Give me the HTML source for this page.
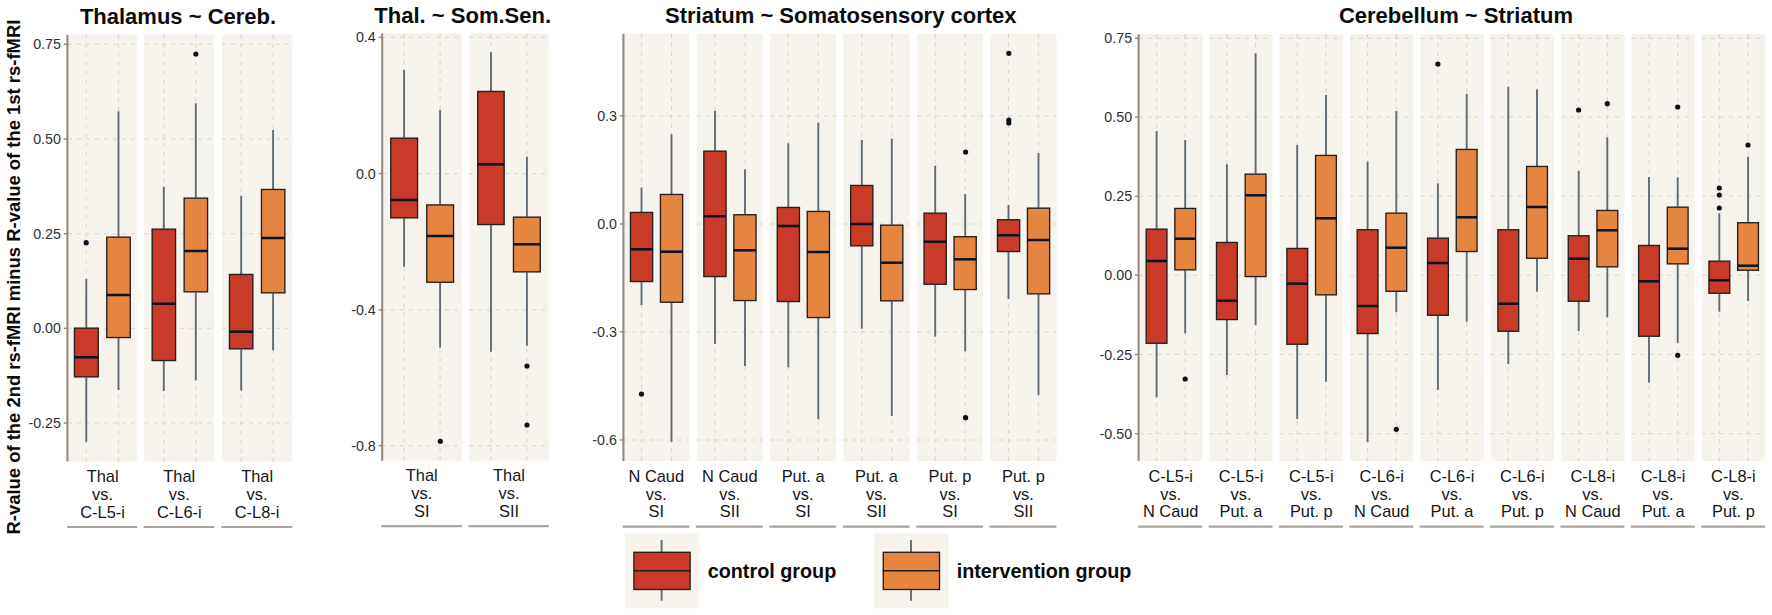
<!DOCTYPE html>
<html lang="en"><head><meta charset="utf-8"><title>rs-fMRI R-value differences</title>
<style>
html,body{margin:0;padding:0;background:#fff;}
body{width:1772px;height:615px;overflow:hidden;font-family:"Liberation Sans",Arial,sans-serif;}
svg{display:block;}
text{font-family:"Liberation Sans",Arial,sans-serif;}
.g{stroke:#D8D4C3;stroke-width:1.1;stroke-dasharray:4 5;}
.w{stroke:#5E6C77;stroke-width:1.9;}
.b{stroke:#231F1D;stroke-width:1.35;}
.m{stroke:#0A1426;stroke-width:2.5;}
.t{font-size:14.3px;fill:#303030;}
.s{font-size:16.4px;fill:#161616;}
.h{font-size:22px;font-weight:bold;fill:#0b0b0b;}
.y{font-size:18.43px;font-weight:bold;fill:#0b0b0b;}
.l{font-size:19.8px;font-weight:bold;fill:#0b0b0b;}
</style></head><body>
<svg width="1772" height="615" viewBox="0 0 1772 615">
<rect width="1772" height="615" fill="#ffffff"/>
<rect x="68.0" y="34.7" width="69.2" height="426.8" fill="#F6F3ED"/>
<rect x="144.3" y="34.7" width="70.0" height="426.8" fill="#F6F3ED"/>
<rect x="222.0" y="34.7" width="70.3" height="426.8" fill="#F6F3ED"/>
<line x1="68.0" x2="137.2" y1="44.3" y2="44.3" class="g"/>
<line x1="68.0" x2="137.2" y1="139.0" y2="139.0" class="g"/>
<line x1="68.0" x2="137.2" y1="233.7" y2="233.7" class="g"/>
<line x1="68.0" x2="137.2" y1="328.3" y2="328.3" class="g"/>
<line x1="68.0" x2="137.2" y1="423.0" y2="423.0" class="g"/>
<line x1="86.3" x2="86.3" y1="34.7" y2="461.5" class="g"/>
<line x1="118.5" x2="118.5" y1="34.7" y2="461.5" class="g"/>
<line x1="144.3" x2="214.3" y1="44.3" y2="44.3" class="g"/>
<line x1="144.3" x2="214.3" y1="139.0" y2="139.0" class="g"/>
<line x1="144.3" x2="214.3" y1="233.7" y2="233.7" class="g"/>
<line x1="144.3" x2="214.3" y1="328.3" y2="328.3" class="g"/>
<line x1="144.3" x2="214.3" y1="423.0" y2="423.0" class="g"/>
<line x1="163.8" x2="163.8" y1="34.7" y2="461.5" class="g"/>
<line x1="195.8" x2="195.8" y1="34.7" y2="461.5" class="g"/>
<line x1="222.0" x2="292.3" y1="44.3" y2="44.3" class="g"/>
<line x1="222.0" x2="292.3" y1="139.0" y2="139.0" class="g"/>
<line x1="222.0" x2="292.3" y1="233.7" y2="233.7" class="g"/>
<line x1="222.0" x2="292.3" y1="328.3" y2="328.3" class="g"/>
<line x1="222.0" x2="292.3" y1="423.0" y2="423.0" class="g"/>
<line x1="241.2" x2="241.2" y1="34.7" y2="461.5" class="g"/>
<line x1="273.1" x2="273.1" y1="34.7" y2="461.5" class="g"/>
<line x1="67.4" x2="67.4" y1="34.7" y2="461.5" stroke="#948B7D" stroke-width="2.1"/>
<line x1="63.8" x2="67.4" y1="44.3" y2="44.3" stroke="#948B7D" stroke-width="1.4"/>
<text x="61.0" y="49.4" class="t" text-anchor="end">0.75</text>
<line x1="63.8" x2="67.4" y1="139.0" y2="139.0" stroke="#948B7D" stroke-width="1.4"/>
<text x="61.0" y="144.1" class="t" text-anchor="end">0.50</text>
<line x1="63.8" x2="67.4" y1="233.7" y2="233.7" stroke="#948B7D" stroke-width="1.4"/>
<text x="61.0" y="238.8" class="t" text-anchor="end">0.25</text>
<line x1="63.8" x2="67.4" y1="328.3" y2="328.3" stroke="#948B7D" stroke-width="1.4"/>
<text x="61.0" y="333.4" class="t" text-anchor="end">0.00</text>
<line x1="63.8" x2="67.4" y1="423.0" y2="423.0" stroke="#948B7D" stroke-width="1.4"/>
<text x="61.0" y="428.1" class="t" text-anchor="end">-0.25</text>
<line x1="86.3" x2="86.3" y1="279.0" y2="327.7" class="w"/>
<line x1="86.3" x2="86.3" y1="377.3" y2="441.7" class="w"/>
<rect x="74.45" y="328.15" width="23.80" height="48.70" fill="#C93A29" class="b"/>
<line x1="74.3" x2="98.4" y1="357.3" y2="357.3" class="m"/>
<line x1="118.5" x2="118.5" y1="111.3" y2="236.7" class="w"/>
<line x1="118.5" x2="118.5" y1="338.0" y2="390.0" class="w"/>
<rect x="106.75" y="237.15" width="23.50" height="100.40" fill="#E6853F" class="b"/>
<line x1="106.6" x2="130.4" y1="295.0" y2="295.0" class="m"/>
<line x1="163.8" x2="163.8" y1="186.7" y2="228.7" class="w"/>
<line x1="163.8" x2="163.8" y1="361.0" y2="391.0" class="w"/>
<rect x="152.15" y="229.15" width="23.40" height="131.40" fill="#C93A29" class="b"/>
<line x1="152.0" x2="175.7" y1="303.7" y2="303.7" class="m"/>
<line x1="195.8" x2="195.8" y1="103.3" y2="197.7" class="w"/>
<line x1="195.8" x2="195.8" y1="292.3" y2="380.3" class="w"/>
<rect x="184.15" y="198.15" width="23.40" height="93.70" fill="#E6853F" class="b"/>
<line x1="184.0" x2="207.7" y1="251.0" y2="251.0" class="m"/>
<line x1="241.2" x2="241.2" y1="195.7" y2="274.0" class="w"/>
<line x1="241.2" x2="241.2" y1="349.3" y2="390.7" class="w"/>
<rect x="229.45" y="274.45" width="23.40" height="74.40" fill="#C93A29" class="b"/>
<line x1="229.3" x2="253.0" y1="331.7" y2="331.7" class="m"/>
<line x1="273.1" x2="273.1" y1="130.0" y2="189.0" class="w"/>
<line x1="273.1" x2="273.1" y1="293.3" y2="350.3" class="w"/>
<rect x="261.45" y="189.45" width="23.40" height="103.40" fill="#E6853F" class="b"/>
<line x1="261.3" x2="285.0" y1="238.0" y2="238.0" class="m"/>
<circle cx="86.2" cy="242.7" r="2.6" fill="#08101C"/>
<circle cx="195.8" cy="54.0" r="2.6" fill="#08101C"/>
<text x="102.6" y="481.9" class="s" text-anchor="middle">Thal</text>
<text x="102.6" y="499.7" class="s" text-anchor="middle">vs.</text>
<text x="102.6" y="517.5" class="s" text-anchor="middle">C-L5-i</text>
<line x1="67.3" x2="137.2" y1="527.0" y2="527.0" stroke="#ABA59C" stroke-width="2.2"/>
<text x="179.3" y="481.9" class="s" text-anchor="middle">Thal</text>
<text x="179.3" y="499.7" class="s" text-anchor="middle">vs.</text>
<text x="179.3" y="517.5" class="s" text-anchor="middle">C-L6-i</text>
<line x1="143.6" x2="214.3" y1="527.0" y2="527.0" stroke="#ABA59C" stroke-width="2.2"/>
<text x="257.1" y="481.9" class="s" text-anchor="middle">Thal</text>
<text x="257.1" y="499.7" class="s" text-anchor="middle">vs.</text>
<text x="257.1" y="517.5" class="s" text-anchor="middle">C-L8-i</text>
<line x1="221.3" x2="292.3" y1="527.0" y2="527.0" stroke="#ABA59C" stroke-width="2.2"/>
<text x="178.0" y="24.4" class="h" text-anchor="middle">Thalamus ~ Cereb.</text>
<rect x="381.8" y="33.5" width="79.9" height="427.3" fill="#F6F3ED"/>
<rect x="469.2" y="33.5" width="79.5" height="427.3" fill="#F6F3ED"/>
<line x1="381.8" x2="461.7" y1="37.3" y2="37.3" class="g"/>
<line x1="381.8" x2="461.7" y1="173.5" y2="173.5" class="g"/>
<line x1="381.8" x2="461.7" y1="310.0" y2="310.0" class="g"/>
<line x1="381.8" x2="461.7" y1="445.7" y2="445.7" class="g"/>
<line x1="404.1" x2="404.1" y1="33.5" y2="460.8" class="g"/>
<line x1="440.1" x2="440.1" y1="33.5" y2="460.8" class="g"/>
<line x1="469.2" x2="548.7" y1="37.3" y2="37.3" class="g"/>
<line x1="469.2" x2="548.7" y1="173.5" y2="173.5" class="g"/>
<line x1="469.2" x2="548.7" y1="310.0" y2="310.0" class="g"/>
<line x1="469.2" x2="548.7" y1="445.7" y2="445.7" class="g"/>
<line x1="491.0" x2="491.0" y1="33.5" y2="460.8" class="g"/>
<line x1="526.9" x2="526.9" y1="33.5" y2="460.8" class="g"/>
<line x1="382.2" x2="382.2" y1="33.5" y2="460.8" stroke="#948B7D" stroke-width="2.1"/>
<line x1="378.6" x2="382.2" y1="37.3" y2="37.3" stroke="#948B7D" stroke-width="1.4"/>
<text x="375.8" y="42.4" class="t" text-anchor="end">0.4</text>
<line x1="378.6" x2="382.2" y1="173.5" y2="173.5" stroke="#948B7D" stroke-width="1.4"/>
<text x="375.8" y="178.6" class="t" text-anchor="end">0.0</text>
<line x1="378.6" x2="382.2" y1="310.0" y2="310.0" stroke="#948B7D" stroke-width="1.4"/>
<text x="375.8" y="315.1" class="t" text-anchor="end">-0.4</text>
<line x1="378.6" x2="382.2" y1="445.7" y2="445.7" stroke="#948B7D" stroke-width="1.4"/>
<text x="375.8" y="450.8" class="t" text-anchor="end">-0.8</text>
<line x1="404.1" x2="404.1" y1="70.0" y2="137.7" class="w"/>
<line x1="404.1" x2="404.1" y1="218.3" y2="266.7" class="w"/>
<rect x="390.75" y="138.15" width="26.80" height="79.70" fill="#C93A29" class="b"/>
<line x1="390.6" x2="417.7" y1="200.0" y2="200.0" class="m"/>
<line x1="440.1" x2="440.1" y1="110.0" y2="204.5" class="w"/>
<line x1="440.1" x2="440.1" y1="282.7" y2="347.7" class="w"/>
<rect x="426.75" y="204.95" width="26.80" height="77.30" fill="#E6853F" class="b"/>
<line x1="426.6" x2="453.7" y1="236.0" y2="236.0" class="m"/>
<line x1="491.0" x2="491.0" y1="52.3" y2="91.0" class="w"/>
<line x1="491.0" x2="491.0" y1="225.0" y2="351.7" class="w"/>
<rect x="477.75" y="91.45" width="26.40" height="133.10" fill="#C93A29" class="b"/>
<line x1="477.6" x2="504.3" y1="164.3" y2="164.3" class="m"/>
<line x1="526.9" x2="526.9" y1="156.7" y2="216.7" class="w"/>
<line x1="526.9" x2="526.9" y1="272.3" y2="345.7" class="w"/>
<rect x="513.45" y="217.15" width="26.80" height="54.70" fill="#E6853F" class="b"/>
<line x1="513.3" x2="540.4" y1="244.3" y2="244.3" class="m"/>
<circle cx="440.3" cy="441.3" r="2.6" fill="#08101C"/>
<circle cx="527.0" cy="366.0" r="2.6" fill="#08101C"/>
<circle cx="527.0" cy="425.0" r="2.6" fill="#08101C"/>
<text x="421.8" y="481.4" class="s" text-anchor="middle">Thal</text>
<text x="421.8" y="499.2" class="s" text-anchor="middle">vs.</text>
<text x="421.8" y="517.0" class="s" text-anchor="middle">SI</text>
<line x1="381.1" x2="461.7" y1="526.2" y2="526.2" stroke="#ABA59C" stroke-width="2.2"/>
<text x="509.0" y="481.4" class="s" text-anchor="middle">Thal</text>
<text x="509.0" y="499.2" class="s" text-anchor="middle">vs.</text>
<text x="509.0" y="517.0" class="s" text-anchor="middle">SII</text>
<line x1="468.5" x2="548.7" y1="526.2" y2="526.2" stroke="#ABA59C" stroke-width="2.2"/>
<text x="462.7" y="22.6" class="h" text-anchor="middle">Thal. ~ Som.Sen.</text>
<rect x="623.3" y="33.7" width="66.1" height="427.3" fill="#F6F3ED"/>
<rect x="696.7" y="33.7" width="66.1" height="427.3" fill="#F6F3ED"/>
<rect x="770.1" y="33.7" width="66.1" height="427.3" fill="#F6F3ED"/>
<rect x="843.5" y="33.7" width="66.1" height="427.3" fill="#F6F3ED"/>
<rect x="916.9" y="33.7" width="66.1" height="427.3" fill="#F6F3ED"/>
<rect x="990.3" y="33.7" width="66.1" height="427.3" fill="#F6F3ED"/>
<line x1="623.3" x2="689.4" y1="115.7" y2="115.7" class="g"/>
<line x1="623.3" x2="689.4" y1="224.0" y2="224.0" class="g"/>
<line x1="623.3" x2="689.4" y1="331.7" y2="331.7" class="g"/>
<line x1="623.3" x2="689.4" y1="440.0" y2="440.0" class="g"/>
<line x1="641.5" x2="641.5" y1="33.7" y2="461.0" class="g"/>
<line x1="671.5" x2="671.5" y1="33.7" y2="461.0" class="g"/>
<line x1="696.7" x2="762.8" y1="115.7" y2="115.7" class="g"/>
<line x1="696.7" x2="762.8" y1="224.0" y2="224.0" class="g"/>
<line x1="696.7" x2="762.8" y1="331.7" y2="331.7" class="g"/>
<line x1="696.7" x2="762.8" y1="440.0" y2="440.0" class="g"/>
<line x1="715.0" x2="715.0" y1="33.7" y2="461.0" class="g"/>
<line x1="745.0" x2="745.0" y1="33.7" y2="461.0" class="g"/>
<line x1="770.1" x2="836.2" y1="115.7" y2="115.7" class="g"/>
<line x1="770.1" x2="836.2" y1="224.0" y2="224.0" class="g"/>
<line x1="770.1" x2="836.2" y1="331.7" y2="331.7" class="g"/>
<line x1="770.1" x2="836.2" y1="440.0" y2="440.0" class="g"/>
<line x1="788.3" x2="788.3" y1="33.7" y2="461.0" class="g"/>
<line x1="818.3" x2="818.3" y1="33.7" y2="461.0" class="g"/>
<line x1="843.5" x2="909.6" y1="115.7" y2="115.7" class="g"/>
<line x1="843.5" x2="909.6" y1="224.0" y2="224.0" class="g"/>
<line x1="843.5" x2="909.6" y1="331.7" y2="331.7" class="g"/>
<line x1="843.5" x2="909.6" y1="440.0" y2="440.0" class="g"/>
<line x1="861.8" x2="861.8" y1="33.7" y2="461.0" class="g"/>
<line x1="891.8" x2="891.8" y1="33.7" y2="461.0" class="g"/>
<line x1="916.9" x2="983.0" y1="115.7" y2="115.7" class="g"/>
<line x1="916.9" x2="983.0" y1="224.0" y2="224.0" class="g"/>
<line x1="916.9" x2="983.0" y1="331.7" y2="331.7" class="g"/>
<line x1="916.9" x2="983.0" y1="440.0" y2="440.0" class="g"/>
<line x1="935.2" x2="935.2" y1="33.7" y2="461.0" class="g"/>
<line x1="965.2" x2="965.2" y1="33.7" y2="461.0" class="g"/>
<line x1="990.3" x2="1056.4" y1="115.7" y2="115.7" class="g"/>
<line x1="990.3" x2="1056.4" y1="224.0" y2="224.0" class="g"/>
<line x1="990.3" x2="1056.4" y1="331.7" y2="331.7" class="g"/>
<line x1="990.3" x2="1056.4" y1="440.0" y2="440.0" class="g"/>
<line x1="1008.5" x2="1008.5" y1="33.7" y2="461.0" class="g"/>
<line x1="1038.5" x2="1038.5" y1="33.7" y2="461.0" class="g"/>
<line x1="623.4" x2="623.4" y1="33.7" y2="461.0" stroke="#948B7D" stroke-width="2.1"/>
<line x1="619.8" x2="623.4" y1="115.7" y2="115.7" stroke="#948B7D" stroke-width="1.4"/>
<text x="617.0" y="120.8" class="t" text-anchor="end">0.3</text>
<line x1="619.8" x2="623.4" y1="224.0" y2="224.0" stroke="#948B7D" stroke-width="1.4"/>
<text x="617.0" y="229.1" class="t" text-anchor="end">0.0</text>
<line x1="619.8" x2="623.4" y1="331.7" y2="331.7" stroke="#948B7D" stroke-width="1.4"/>
<text x="617.0" y="336.8" class="t" text-anchor="end">-0.3</text>
<line x1="619.8" x2="623.4" y1="440.0" y2="440.0" stroke="#948B7D" stroke-width="1.4"/>
<text x="617.0" y="445.1" class="t" text-anchor="end">-0.6</text>
<line x1="641.5" x2="641.5" y1="187.7" y2="212.0" class="w"/>
<line x1="641.5" x2="641.5" y1="282.0" y2="305.0" class="w"/>
<rect x="630.45" y="212.45" width="22.20" height="69.10" fill="#C93A29" class="b"/>
<line x1="630.3" x2="652.8" y1="249.3" y2="249.3" class="m"/>
<line x1="671.5" x2="671.5" y1="134.3" y2="194.0" class="w"/>
<line x1="671.5" x2="671.5" y1="302.7" y2="441.7" class="w"/>
<rect x="660.45" y="194.45" width="22.20" height="107.80" fill="#E6853F" class="b"/>
<line x1="660.3" x2="682.8" y1="251.7" y2="251.7" class="m"/>
<line x1="715.0" x2="715.0" y1="110.7" y2="150.7" class="w"/>
<line x1="715.0" x2="715.0" y1="277.0" y2="344.0" class="w"/>
<rect x="703.85" y="151.15" width="22.20" height="125.40" fill="#C93A29" class="b"/>
<line x1="703.7" x2="726.2" y1="216.3" y2="216.3" class="m"/>
<line x1="745.0" x2="745.0" y1="169.3" y2="214.3" class="w"/>
<line x1="745.0" x2="745.0" y1="301.0" y2="366.0" class="w"/>
<rect x="733.85" y="214.75" width="22.20" height="85.80" fill="#E6853F" class="b"/>
<line x1="733.7" x2="756.2" y1="250.3" y2="250.3" class="m"/>
<line x1="788.3" x2="788.3" y1="143.3" y2="207.0" class="w"/>
<line x1="788.3" x2="788.3" y1="302.0" y2="367.3" class="w"/>
<rect x="777.25" y="207.45" width="22.20" height="94.10" fill="#C93A29" class="b"/>
<line x1="777.1" x2="799.6" y1="226.0" y2="226.0" class="m"/>
<line x1="818.3" x2="818.3" y1="122.7" y2="211.0" class="w"/>
<line x1="818.3" x2="818.3" y1="318.0" y2="419.3" class="w"/>
<rect x="807.25" y="211.45" width="22.20" height="106.10" fill="#E6853F" class="b"/>
<line x1="807.1" x2="829.6" y1="252.0" y2="252.0" class="m"/>
<line x1="861.8" x2="861.8" y1="140.0" y2="185.0" class="w"/>
<line x1="861.8" x2="861.8" y1="246.3" y2="328.7" class="w"/>
<rect x="850.65" y="185.45" width="22.20" height="60.40" fill="#C93A29" class="b"/>
<line x1="850.5" x2="873.0" y1="224.0" y2="224.0" class="m"/>
<line x1="891.8" x2="891.8" y1="138.7" y2="224.7" class="w"/>
<line x1="891.8" x2="891.8" y1="301.3" y2="416.0" class="w"/>
<rect x="880.65" y="225.15" width="22.20" height="75.70" fill="#E6853F" class="b"/>
<line x1="880.5" x2="903.0" y1="262.7" y2="262.7" class="m"/>
<line x1="935.2" x2="935.2" y1="165.7" y2="212.7" class="w"/>
<line x1="935.2" x2="935.2" y1="284.7" y2="336.7" class="w"/>
<rect x="924.05" y="213.15" width="22.20" height="71.10" fill="#C93A29" class="b"/>
<line x1="923.9" x2="946.4" y1="241.7" y2="241.7" class="m"/>
<line x1="965.2" x2="965.2" y1="194.0" y2="236.3" class="w"/>
<line x1="965.2" x2="965.2" y1="290.0" y2="351.3" class="w"/>
<rect x="954.05" y="236.75" width="22.20" height="52.80" fill="#E6853F" class="b"/>
<line x1="953.9" x2="976.4" y1="259.3" y2="259.3" class="m"/>
<line x1="1008.5" x2="1008.5" y1="205.0" y2="219.3" class="w"/>
<line x1="1008.5" x2="1008.5" y1="252.0" y2="299.0" class="w"/>
<rect x="997.45" y="219.75" width="22.20" height="31.80" fill="#C93A29" class="b"/>
<line x1="997.3" x2="1019.8" y1="235.3" y2="235.3" class="m"/>
<line x1="1038.5" x2="1038.5" y1="153.0" y2="207.7" class="w"/>
<line x1="1038.5" x2="1038.5" y1="294.3" y2="395.0" class="w"/>
<rect x="1027.45" y="208.15" width="22.20" height="85.70" fill="#E6853F" class="b"/>
<line x1="1027.3" x2="1049.8" y1="240.0" y2="240.0" class="m"/>
<circle cx="641.5" cy="394.0" r="2.6" fill="#08101C"/>
<circle cx="965.6" cy="152.0" r="2.6" fill="#08101C"/>
<circle cx="965.6" cy="417.7" r="2.6" fill="#08101C"/>
<circle cx="1008.8" cy="53.3" r="2.6" fill="#08101C"/>
<circle cx="1008.8" cy="120.0" r="2.6" fill="#08101C"/>
<circle cx="1008.8" cy="123.0" r="2.6" fill="#08101C"/>
<text x="656.3" y="481.7" class="s" text-anchor="middle">N Caud</text>
<text x="656.3" y="499.5" class="s" text-anchor="middle">vs.</text>
<text x="656.3" y="517.3" class="s" text-anchor="middle">SI</text>
<line x1="622.6" x2="689.4" y1="526.7" y2="526.7" stroke="#ABA59C" stroke-width="2.2"/>
<text x="729.8" y="481.7" class="s" text-anchor="middle">N Caud</text>
<text x="729.8" y="499.5" class="s" text-anchor="middle">vs.</text>
<text x="729.8" y="517.3" class="s" text-anchor="middle">SII</text>
<line x1="696.0" x2="762.8" y1="526.7" y2="526.7" stroke="#ABA59C" stroke-width="2.2"/>
<text x="803.1" y="481.7" class="s" text-anchor="middle">Put. a</text>
<text x="803.1" y="499.5" class="s" text-anchor="middle">vs.</text>
<text x="803.1" y="517.3" class="s" text-anchor="middle">SI</text>
<line x1="769.4" x2="836.2" y1="526.7" y2="526.7" stroke="#ABA59C" stroke-width="2.2"/>
<text x="876.5" y="481.7" class="s" text-anchor="middle">Put. a</text>
<text x="876.5" y="499.5" class="s" text-anchor="middle">vs.</text>
<text x="876.5" y="517.3" class="s" text-anchor="middle">SII</text>
<line x1="842.8" x2="909.6" y1="526.7" y2="526.7" stroke="#ABA59C" stroke-width="2.2"/>
<text x="950.0" y="481.7" class="s" text-anchor="middle">Put. p</text>
<text x="950.0" y="499.5" class="s" text-anchor="middle">vs.</text>
<text x="950.0" y="517.3" class="s" text-anchor="middle">SI</text>
<line x1="916.2" x2="983.0" y1="526.7" y2="526.7" stroke="#ABA59C" stroke-width="2.2"/>
<text x="1023.4" y="481.7" class="s" text-anchor="middle">Put. p</text>
<text x="1023.4" y="499.5" class="s" text-anchor="middle">vs.</text>
<text x="1023.4" y="517.3" class="s" text-anchor="middle">SII</text>
<line x1="989.6" x2="1056.4" y1="526.7" y2="526.7" stroke="#ABA59C" stroke-width="2.2"/>
<text x="840.8" y="23.0" class="h" text-anchor="middle">Striatum ~ Somatosensory cortex</text>
<rect x="1139.0" y="34.3" width="63.3" height="426.7" fill="#F6F3ED"/>
<rect x="1209.3" y="34.3" width="63.3" height="426.7" fill="#F6F3ED"/>
<rect x="1279.7" y="34.3" width="63.3" height="426.7" fill="#F6F3ED"/>
<rect x="1350.0" y="34.3" width="63.3" height="426.7" fill="#F6F3ED"/>
<rect x="1420.4" y="34.3" width="63.3" height="426.7" fill="#F6F3ED"/>
<rect x="1490.8" y="34.3" width="63.3" height="426.7" fill="#F6F3ED"/>
<rect x="1561.1" y="34.3" width="63.3" height="426.7" fill="#F6F3ED"/>
<rect x="1631.4" y="34.3" width="63.3" height="426.7" fill="#F6F3ED"/>
<rect x="1701.8" y="34.3" width="63.3" height="426.7" fill="#F6F3ED"/>
<line x1="1139.0" x2="1202.3" y1="38.3" y2="38.3" class="g"/>
<line x1="1139.0" x2="1202.3" y1="117.0" y2="117.0" class="g"/>
<line x1="1139.0" x2="1202.3" y1="196.3" y2="196.3" class="g"/>
<line x1="1139.0" x2="1202.3" y1="275.2" y2="275.2" class="g"/>
<line x1="1139.0" x2="1202.3" y1="354.5" y2="354.5" class="g"/>
<line x1="1139.0" x2="1202.3" y1="433.7" y2="433.7" class="g"/>
<line x1="1156.6" x2="1156.6" y1="34.3" y2="461.0" class="g"/>
<line x1="1185.2" x2="1185.2" y1="34.3" y2="461.0" class="g"/>
<line x1="1209.3" x2="1272.6" y1="38.3" y2="38.3" class="g"/>
<line x1="1209.3" x2="1272.6" y1="117.0" y2="117.0" class="g"/>
<line x1="1209.3" x2="1272.6" y1="196.3" y2="196.3" class="g"/>
<line x1="1209.3" x2="1272.6" y1="275.2" y2="275.2" class="g"/>
<line x1="1209.3" x2="1272.6" y1="354.5" y2="354.5" class="g"/>
<line x1="1209.3" x2="1272.6" y1="433.7" y2="433.7" class="g"/>
<line x1="1226.9" x2="1226.9" y1="34.3" y2="461.0" class="g"/>
<line x1="1255.6" x2="1255.6" y1="34.3" y2="461.0" class="g"/>
<line x1="1279.7" x2="1343.0" y1="38.3" y2="38.3" class="g"/>
<line x1="1279.7" x2="1343.0" y1="117.0" y2="117.0" class="g"/>
<line x1="1279.7" x2="1343.0" y1="196.3" y2="196.3" class="g"/>
<line x1="1279.7" x2="1343.0" y1="275.2" y2="275.2" class="g"/>
<line x1="1279.7" x2="1343.0" y1="354.5" y2="354.5" class="g"/>
<line x1="1279.7" x2="1343.0" y1="433.7" y2="433.7" class="g"/>
<line x1="1297.2" x2="1297.2" y1="34.3" y2="461.0" class="g"/>
<line x1="1326.0" x2="1326.0" y1="34.3" y2="461.0" class="g"/>
<line x1="1350.0" x2="1413.3" y1="38.3" y2="38.3" class="g"/>
<line x1="1350.0" x2="1413.3" y1="117.0" y2="117.0" class="g"/>
<line x1="1350.0" x2="1413.3" y1="196.3" y2="196.3" class="g"/>
<line x1="1350.0" x2="1413.3" y1="275.2" y2="275.2" class="g"/>
<line x1="1350.0" x2="1413.3" y1="354.5" y2="354.5" class="g"/>
<line x1="1350.0" x2="1413.3" y1="433.7" y2="433.7" class="g"/>
<line x1="1367.6" x2="1367.6" y1="34.3" y2="461.0" class="g"/>
<line x1="1396.3" x2="1396.3" y1="34.3" y2="461.0" class="g"/>
<line x1="1420.4" x2="1483.7" y1="38.3" y2="38.3" class="g"/>
<line x1="1420.4" x2="1483.7" y1="117.0" y2="117.0" class="g"/>
<line x1="1420.4" x2="1483.7" y1="196.3" y2="196.3" class="g"/>
<line x1="1420.4" x2="1483.7" y1="275.2" y2="275.2" class="g"/>
<line x1="1420.4" x2="1483.7" y1="354.5" y2="354.5" class="g"/>
<line x1="1420.4" x2="1483.7" y1="433.7" y2="433.7" class="g"/>
<line x1="1437.9" x2="1437.9" y1="34.3" y2="461.0" class="g"/>
<line x1="1466.7" x2="1466.7" y1="34.3" y2="461.0" class="g"/>
<line x1="1490.8" x2="1554.0" y1="38.3" y2="38.3" class="g"/>
<line x1="1490.8" x2="1554.0" y1="117.0" y2="117.0" class="g"/>
<line x1="1490.8" x2="1554.0" y1="196.3" y2="196.3" class="g"/>
<line x1="1490.8" x2="1554.0" y1="275.2" y2="275.2" class="g"/>
<line x1="1490.8" x2="1554.0" y1="354.5" y2="354.5" class="g"/>
<line x1="1490.8" x2="1554.0" y1="433.7" y2="433.7" class="g"/>
<line x1="1508.3" x2="1508.3" y1="34.3" y2="461.0" class="g"/>
<line x1="1537.0" x2="1537.0" y1="34.3" y2="461.0" class="g"/>
<line x1="1561.1" x2="1624.4" y1="38.3" y2="38.3" class="g"/>
<line x1="1561.1" x2="1624.4" y1="117.0" y2="117.0" class="g"/>
<line x1="1561.1" x2="1624.4" y1="196.3" y2="196.3" class="g"/>
<line x1="1561.1" x2="1624.4" y1="275.2" y2="275.2" class="g"/>
<line x1="1561.1" x2="1624.4" y1="354.5" y2="354.5" class="g"/>
<line x1="1561.1" x2="1624.4" y1="433.7" y2="433.7" class="g"/>
<line x1="1578.7" x2="1578.7" y1="34.3" y2="461.0" class="g"/>
<line x1="1607.3" x2="1607.3" y1="34.3" y2="461.0" class="g"/>
<line x1="1631.4" x2="1694.8" y1="38.3" y2="38.3" class="g"/>
<line x1="1631.4" x2="1694.8" y1="117.0" y2="117.0" class="g"/>
<line x1="1631.4" x2="1694.8" y1="196.3" y2="196.3" class="g"/>
<line x1="1631.4" x2="1694.8" y1="275.2" y2="275.2" class="g"/>
<line x1="1631.4" x2="1694.8" y1="354.5" y2="354.5" class="g"/>
<line x1="1631.4" x2="1694.8" y1="433.7" y2="433.7" class="g"/>
<line x1="1649.0" x2="1649.0" y1="34.3" y2="461.0" class="g"/>
<line x1="1677.7" x2="1677.7" y1="34.3" y2="461.0" class="g"/>
<line x1="1701.8" x2="1765.1" y1="38.3" y2="38.3" class="g"/>
<line x1="1701.8" x2="1765.1" y1="117.0" y2="117.0" class="g"/>
<line x1="1701.8" x2="1765.1" y1="196.3" y2="196.3" class="g"/>
<line x1="1701.8" x2="1765.1" y1="275.2" y2="275.2" class="g"/>
<line x1="1701.8" x2="1765.1" y1="354.5" y2="354.5" class="g"/>
<line x1="1701.8" x2="1765.1" y1="433.7" y2="433.7" class="g"/>
<line x1="1719.3" x2="1719.3" y1="34.3" y2="461.0" class="g"/>
<line x1="1748.1" x2="1748.1" y1="34.3" y2="461.0" class="g"/>
<line x1="1138.6" x2="1138.6" y1="34.3" y2="461.0" stroke="#948B7D" stroke-width="2.1"/>
<line x1="1135.0" x2="1138.6" y1="38.3" y2="38.3" stroke="#948B7D" stroke-width="1.4"/>
<text x="1132.2" y="43.4" class="t" text-anchor="end">0.75</text>
<line x1="1135.0" x2="1138.6" y1="117.0" y2="117.0" stroke="#948B7D" stroke-width="1.4"/>
<text x="1132.2" y="122.1" class="t" text-anchor="end">0.50</text>
<line x1="1135.0" x2="1138.6" y1="196.3" y2="196.3" stroke="#948B7D" stroke-width="1.4"/>
<text x="1132.2" y="201.4" class="t" text-anchor="end">0.25</text>
<line x1="1135.0" x2="1138.6" y1="275.2" y2="275.2" stroke="#948B7D" stroke-width="1.4"/>
<text x="1132.2" y="280.3" class="t" text-anchor="end">0.00</text>
<line x1="1135.0" x2="1138.6" y1="354.5" y2="354.5" stroke="#948B7D" stroke-width="1.4"/>
<text x="1132.2" y="359.6" class="t" text-anchor="end">-0.25</text>
<line x1="1135.0" x2="1138.6" y1="433.7" y2="433.7" stroke="#948B7D" stroke-width="1.4"/>
<text x="1132.2" y="438.8" class="t" text-anchor="end">-0.50</text>
<line x1="1156.6" x2="1156.6" y1="131.0" y2="228.7" class="w"/>
<line x1="1156.6" x2="1156.6" y1="343.7" y2="397.3" class="w"/>
<rect x="1146.15" y="229.15" width="20.80" height="114.10" fill="#C93A29" class="b"/>
<line x1="1146.0" x2="1167.1" y1="261.0" y2="261.0" class="m"/>
<line x1="1185.2" x2="1185.2" y1="140.0" y2="208.0" class="w"/>
<line x1="1185.2" x2="1185.2" y1="270.3" y2="333.3" class="w"/>
<rect x="1174.85" y="208.45" width="20.80" height="61.40" fill="#E6853F" class="b"/>
<line x1="1174.7" x2="1195.8" y1="238.7" y2="238.7" class="m"/>
<line x1="1226.9" x2="1226.9" y1="164.3" y2="242.0" class="w"/>
<line x1="1226.9" x2="1226.9" y1="320.0" y2="375.0" class="w"/>
<rect x="1216.50" y="242.45" width="20.80" height="77.10" fill="#C93A29" class="b"/>
<line x1="1216.3" x2="1237.5" y1="300.7" y2="300.7" class="m"/>
<line x1="1255.6" x2="1255.6" y1="53.3" y2="173.7" class="w"/>
<line x1="1255.6" x2="1255.6" y1="277.0" y2="325.0" class="w"/>
<rect x="1245.20" y="174.15" width="20.80" height="102.40" fill="#E6853F" class="b"/>
<line x1="1245.0" x2="1266.2" y1="195.3" y2="195.3" class="m"/>
<line x1="1297.2" x2="1297.2" y1="145.0" y2="248.0" class="w"/>
<line x1="1297.2" x2="1297.2" y1="344.7" y2="419.0" class="w"/>
<rect x="1286.85" y="248.45" width="20.80" height="95.80" fill="#C93A29" class="b"/>
<line x1="1286.7" x2="1307.8" y1="283.7" y2="283.7" class="m"/>
<line x1="1326.0" x2="1326.0" y1="95.0" y2="155.0" class="w"/>
<line x1="1326.0" x2="1326.0" y1="295.3" y2="381.7" class="w"/>
<rect x="1315.55" y="155.45" width="20.80" height="139.40" fill="#E6853F" class="b"/>
<line x1="1315.4" x2="1336.5" y1="218.3" y2="218.3" class="m"/>
<line x1="1367.6" x2="1367.6" y1="161.7" y2="229.3" class="w"/>
<line x1="1367.6" x2="1367.6" y1="334.0" y2="442.0" class="w"/>
<rect x="1357.20" y="229.75" width="20.80" height="103.80" fill="#C93A29" class="b"/>
<line x1="1357.0" x2="1378.2" y1="306.0" y2="306.0" class="m"/>
<line x1="1396.3" x2="1396.3" y1="111.0" y2="212.7" class="w"/>
<line x1="1396.3" x2="1396.3" y1="291.7" y2="312.3" class="w"/>
<rect x="1385.90" y="213.15" width="20.80" height="78.10" fill="#E6853F" class="b"/>
<line x1="1385.8" x2="1406.9" y1="247.7" y2="247.7" class="m"/>
<line x1="1437.9" x2="1437.9" y1="183.3" y2="237.7" class="w"/>
<line x1="1437.9" x2="1437.9" y1="315.7" y2="390.0" class="w"/>
<rect x="1427.55" y="238.15" width="20.80" height="77.10" fill="#C93A29" class="b"/>
<line x1="1427.4" x2="1448.5" y1="263.0" y2="263.0" class="m"/>
<line x1="1466.7" x2="1466.7" y1="94.0" y2="149.0" class="w"/>
<line x1="1466.7" x2="1466.7" y1="252.0" y2="321.7" class="w"/>
<rect x="1456.25" y="149.45" width="20.80" height="102.10" fill="#E6853F" class="b"/>
<line x1="1456.1" x2="1477.2" y1="217.3" y2="217.3" class="m"/>
<line x1="1508.3" x2="1508.3" y1="86.7" y2="229.3" class="w"/>
<line x1="1508.3" x2="1508.3" y1="331.7" y2="364.0" class="w"/>
<rect x="1497.90" y="229.75" width="20.80" height="101.50" fill="#C93A29" class="b"/>
<line x1="1497.8" x2="1518.9" y1="303.7" y2="303.7" class="m"/>
<line x1="1537.0" x2="1537.0" y1="89.3" y2="166.0" class="w"/>
<line x1="1537.0" x2="1537.0" y1="258.7" y2="291.7" class="w"/>
<rect x="1526.60" y="166.45" width="20.80" height="91.80" fill="#E6853F" class="b"/>
<line x1="1526.5" x2="1547.6" y1="207.0" y2="207.0" class="m"/>
<line x1="1578.7" x2="1578.7" y1="171.0" y2="235.3" class="w"/>
<line x1="1578.7" x2="1578.7" y1="301.7" y2="331.0" class="w"/>
<rect x="1568.25" y="235.75" width="20.80" height="65.50" fill="#C93A29" class="b"/>
<line x1="1568.1" x2="1589.2" y1="258.7" y2="258.7" class="m"/>
<line x1="1607.3" x2="1607.3" y1="137.3" y2="210.0" class="w"/>
<line x1="1607.3" x2="1607.3" y1="267.3" y2="317.3" class="w"/>
<rect x="1596.95" y="210.45" width="20.80" height="56.40" fill="#E6853F" class="b"/>
<line x1="1596.8" x2="1617.9" y1="230.3" y2="230.3" class="m"/>
<line x1="1649.0" x2="1649.0" y1="177.0" y2="245.0" class="w"/>
<line x1="1649.0" x2="1649.0" y1="336.7" y2="382.7" class="w"/>
<rect x="1638.60" y="245.45" width="20.80" height="90.80" fill="#C93A29" class="b"/>
<line x1="1638.5" x2="1659.6" y1="281.3" y2="281.3" class="m"/>
<line x1="1677.7" x2="1677.7" y1="177.3" y2="206.7" class="w"/>
<line x1="1677.7" x2="1677.7" y1="264.3" y2="343.0" class="w"/>
<rect x="1667.30" y="207.15" width="20.80" height="56.70" fill="#E6853F" class="b"/>
<line x1="1667.2" x2="1688.3" y1="248.7" y2="248.7" class="m"/>
<line x1="1719.3" x2="1719.3" y1="213.3" y2="260.7" class="w"/>
<line x1="1719.3" x2="1719.3" y1="293.7" y2="311.7" class="w"/>
<rect x="1708.95" y="261.15" width="20.80" height="32.10" fill="#C93A29" class="b"/>
<line x1="1708.8" x2="1729.9" y1="280.3" y2="280.3" class="m"/>
<line x1="1748.1" x2="1748.1" y1="156.7" y2="222.3" class="w"/>
<line x1="1748.1" x2="1748.1" y1="270.7" y2="301.0" class="w"/>
<rect x="1737.65" y="222.75" width="20.80" height="47.50" fill="#E6853F" class="b"/>
<line x1="1737.5" x2="1758.6" y1="265.7" y2="265.7" class="m"/>
<circle cx="1185.2" cy="379.0" r="2.6" fill="#08101C"/>
<circle cx="1396.3" cy="429.3" r="2.6" fill="#08101C"/>
<circle cx="1437.9" cy="64.0" r="2.6" fill="#08101C"/>
<circle cx="1578.6" cy="110.0" r="2.6" fill="#08101C"/>
<circle cx="1607.3" cy="103.7" r="2.6" fill="#08101C"/>
<circle cx="1677.7" cy="107.0" r="2.6" fill="#08101C"/>
<circle cx="1677.7" cy="355.3" r="2.6" fill="#08101C"/>
<circle cx="1719.3" cy="188.0" r="2.6" fill="#08101C"/>
<circle cx="1719.3" cy="195.0" r="2.6" fill="#08101C"/>
<circle cx="1719.3" cy="208.0" r="2.6" fill="#08101C"/>
<circle cx="1748.0" cy="145.0" r="2.6" fill="#08101C"/>
<text x="1170.7" y="481.7" class="s" text-anchor="middle">C-L5-i</text>
<text x="1170.7" y="499.5" class="s" text-anchor="middle">vs.</text>
<text x="1170.7" y="517.3" class="s" text-anchor="middle">N Caud</text>
<line x1="1138.3" x2="1202.3" y1="526.7" y2="526.7" stroke="#ABA59C" stroke-width="2.2"/>
<text x="1241.0" y="481.7" class="s" text-anchor="middle">C-L5-i</text>
<text x="1241.0" y="499.5" class="s" text-anchor="middle">vs.</text>
<text x="1241.0" y="517.3" class="s" text-anchor="middle">Put. a</text>
<line x1="1208.6" x2="1272.6" y1="526.7" y2="526.7" stroke="#ABA59C" stroke-width="2.2"/>
<text x="1311.3" y="481.7" class="s" text-anchor="middle">C-L5-i</text>
<text x="1311.3" y="499.5" class="s" text-anchor="middle">vs.</text>
<text x="1311.3" y="517.3" class="s" text-anchor="middle">Put. p</text>
<line x1="1279.0" x2="1343.0" y1="526.7" y2="526.7" stroke="#ABA59C" stroke-width="2.2"/>
<text x="1381.7" y="481.7" class="s" text-anchor="middle">C-L6-i</text>
<text x="1381.7" y="499.5" class="s" text-anchor="middle">vs.</text>
<text x="1381.7" y="517.3" class="s" text-anchor="middle">N Caud</text>
<line x1="1349.3" x2="1413.3" y1="526.7" y2="526.7" stroke="#ABA59C" stroke-width="2.2"/>
<text x="1452.0" y="481.7" class="s" text-anchor="middle">C-L6-i</text>
<text x="1452.0" y="499.5" class="s" text-anchor="middle">vs.</text>
<text x="1452.0" y="517.3" class="s" text-anchor="middle">Put. a</text>
<line x1="1419.7" x2="1483.7" y1="526.7" y2="526.7" stroke="#ABA59C" stroke-width="2.2"/>
<text x="1522.4" y="481.7" class="s" text-anchor="middle">C-L6-i</text>
<text x="1522.4" y="499.5" class="s" text-anchor="middle">vs.</text>
<text x="1522.4" y="517.3" class="s" text-anchor="middle">Put. p</text>
<line x1="1490.0" x2="1554.0" y1="526.7" y2="526.7" stroke="#ABA59C" stroke-width="2.2"/>
<text x="1592.8" y="481.7" class="s" text-anchor="middle">C-L8-i</text>
<text x="1592.8" y="499.5" class="s" text-anchor="middle">vs.</text>
<text x="1592.8" y="517.3" class="s" text-anchor="middle">N Caud</text>
<line x1="1560.4" x2="1624.4" y1="526.7" y2="526.7" stroke="#ABA59C" stroke-width="2.2"/>
<text x="1663.1" y="481.7" class="s" text-anchor="middle">C-L8-i</text>
<text x="1663.1" y="499.5" class="s" text-anchor="middle">vs.</text>
<text x="1663.1" y="517.3" class="s" text-anchor="middle">Put. a</text>
<line x1="1630.7" x2="1694.8" y1="526.7" y2="526.7" stroke="#ABA59C" stroke-width="2.2"/>
<text x="1733.4" y="481.7" class="s" text-anchor="middle">C-L8-i</text>
<text x="1733.4" y="499.5" class="s" text-anchor="middle">vs.</text>
<text x="1733.4" y="517.3" class="s" text-anchor="middle">Put. p</text>
<line x1="1701.1" x2="1765.1" y1="526.7" y2="526.7" stroke="#ABA59C" stroke-width="2.2"/>
<text x="1456.0" y="23.0" class="h" text-anchor="middle">Cerebellum ~ Striatum</text>
<text transform="translate(19.9,277.1) rotate(-90)" class="y" text-anchor="middle">R-value of the 2nd rs-fMRI minus R-value of the 1st rs-fMRI</text>
<rect x="625.0" y="533.3" width="74.2" height="75" fill="#F6F3ED"/>
<line x1="661.6" x2="661.6" y1="540" y2="600.7" class="w"/>
<rect x="633.9" y="552.3" width="56.2" height="37.2" fill="#C93A29" class="b"/>
<line x1="633.3" x2="690.7" y1="570.7" y2="570.7" stroke="#231F1D" stroke-width="1.6"/>
<text x="707.7" y="577.5" class="l">control group</text>
<rect x="874.4" y="533.3" width="74.2" height="75" fill="#F6F3ED"/>
<line x1="911.0" x2="911.0" y1="540" y2="600.7" class="w"/>
<rect x="883.3" y="552.3" width="56.2" height="37.2" fill="#E6853F" class="b"/>
<line x1="882.7" x2="940.1" y1="570.7" y2="570.7" stroke="#231F1D" stroke-width="1.6"/>
<text x="956.7" y="577.5" class="l">intervention group</text>
</svg>
</body></html>
